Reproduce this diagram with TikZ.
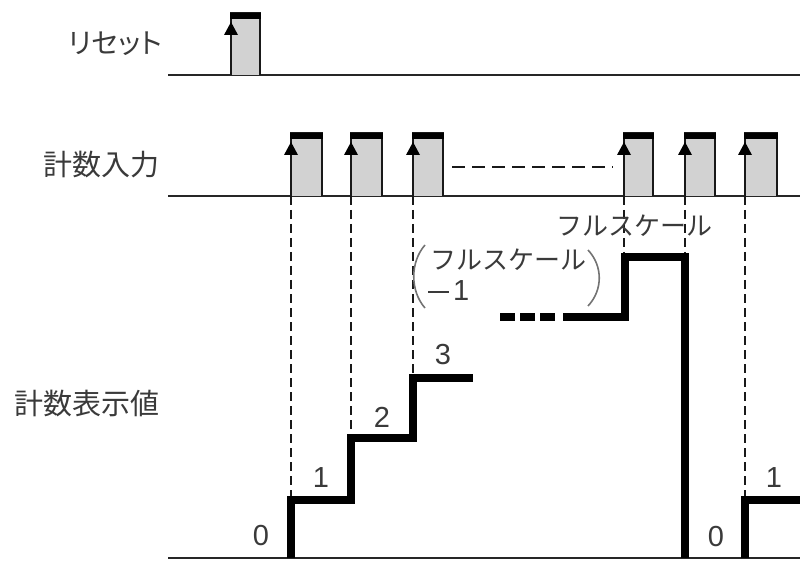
\documentclass[tikz,border=0pt]{standalone}
\usepackage{fontspec}
\setmainfont{Liberation Sans}
\newfontfamily\jp{Noto Sans CJK JP}
\newfontfamily\jpp[RawFeature=+palt]{Noto Sans CJK JP}
\newfontfamily\lsans{Liberation Sans}
\definecolor{txt}{HTML}{3A3A3A}
\definecolor{pulsegray}{HTML}{D2D2D2}
\newcommand\mypulse[4]{%
  \filldraw[pulseshape] (#1,#4) -- (#1,#3) -- (#2,#3) -- (#2,#4);
  \fill[black] (#1-1,#3) rectangle (#2+1,#3+6);
  \fill[black] (#1-7,#3+22) -- (#1+7,#3+22) -- (#1,#3+9) -- cycle;
}
\begin{document}
\begin{tikzpicture}[x=1pt,y=-1pt,
  baseline/.style={line width=1.5pt, draw=black!85},
  pulseshape/.style={fill=pulsegray, draw=black!90, line width=2pt},
  guide/.style={line width=1.3pt, dash pattern=on 9pt off 5pt, black!90},
  gapline/.style={line width=2pt, dash pattern=on 13pt off 7pt, black!90},
  stepline/.style={line width=8pt, black},
  dotstep/.style={line width=8pt, black, dash pattern=on 15pt off 5pt},
  paren/.style={line width=1.6pt, black!55},
  lab/.style={text=txt, font=\jp\fontsize{29}{31}\selectfont, inner sep=0pt},
  klab/.style={text=txt, font=\jp\fontsize{26}{28}\selectfont, inner sep=0pt},
  num/.style={text=txt, font=\lsans\fontsize{29}{31}\selectfont, inner sep=0pt}]
\useasboundingbox (0,0) rectangle (800,561);

% labels
\node[lab, anchor=east, font=\jpp\fontsize{28}{30}\selectfont] (lreset) at (162,44) {リセット};
\node[lab, anchor=east] (lcount) at (160,165) {計数入力};
\node[lab, anchor=east] (lvalue) at (160,404) {計数表示値};

% baselines
\draw[baseline] (168,75) -- (800,75);
\draw[baseline] (168,196) -- (800,196);
\draw[baseline] (168,558) -- (800,558);

% reset pulse
\mypulse{231}{260}{13}{75}

% count pulses
\mypulse{291}{322}{133}{196}
\mypulse{351}{382}{133}{196}
\mypulse{413}{443}{133}{196}
\mypulse{624}{653}{133}{196}
\mypulse{685}{715}{133}{196}
\mypulse{745}{777}{133}{196}
\draw[gapline] (452,167) -- (613,167);

% guides
\draw[guide] (291,196) -- (291,496);
\draw[guide] (351,196) -- (351,434);
\draw[guide] (413,196) -- (413,374);
\draw[guide] (624,196) -- (624,253);
\draw[guide] (685,196) -- (685,253);
\draw[guide] (745,196) -- (745,496);

% count value steps
\draw[stepline] (291,558) -- (291,500) -- (351,500) -- (351,438) -- (413,438) -- (413,378) -- (473,378);
\draw[dotstep] (500,317) -- (557,317);
\draw[stepline] (563,317) -- (625,317) -- (625,257) -- (685,257) -- (685,558);
\draw[stepline] (745,558) -- (745,500) -- (800,500);

% value labels
\node[num] (v0) at (261,536) {0};
\node[num] (v1) at (321,478) {1};
\node[num] (v2) at (382,417) {2};
\node[num] (v3) at (443,355) {3};
\node[num] (w0) at (716,537) {0};
\node[num] (w1) at (774,478) {1};

\node[klab] (full) at (634,226) {フルスケール};
\node[klab, anchor=west] (fm1a) at (430,260) {フルスケール};
\node[num, anchor=west] (fm1b) at (428,291) {\rule[7.5pt]{21pt}{2pt}\kern4pt 1};
\draw[paren] (425,245) .. controls (410,262) and (410,291) .. (425,308);
\draw[paren] (588,250) .. controls (603,266) and (603,290) .. (588,306);
\end{tikzpicture}
\end{document}
